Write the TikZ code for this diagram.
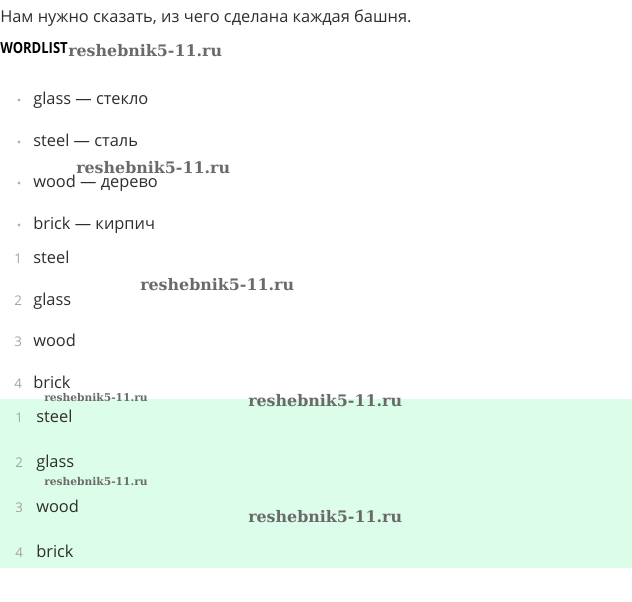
\documentclass[tikz,border=0pt]{standalone}
\usepackage{fontspec}
\setmainfont{Open Sans}
\newfontfamily\wmfont{DejaVu Serif}
\definecolor{txtgray}{HTML}{2E2E2E}
\definecolor{numgray}{HTML}{A3A3A3}
\definecolor{dotgray}{HTML}{B0B0B0}
\definecolor{bandgreen}{HTML}{DCFDE9}
\definecolor{wmgray}{HTML}{6A6A6A}
\tikzset{
  word/.style={text=txtgray, font=\fontsize{12.3}{14}\selectfont},
  numlabel/.style={text=numgray, font=\fontsize{10}{12}\selectfont},
  headlabel/.style={text=black, font=\bfseries\fontsize{11.5}{14}\selectfont},
  wmbig/.style={text=wmgray, font=\wmfont\bfseries\fontsize{11.9}{13}\selectfont},
  wmsmall/.style={text=wmgray, font=\wmfont\bfseries\fontsize{8}{9}\selectfont}
}
\begin{document}
\begin{tikzpicture}[x=0.75pt,y=-0.75pt, every node/.style={inner sep=0pt, anchor=base west}]
  \useasboundingbox (0,0) rectangle (632,601);
  % answer band
  \fill[bandgreen] (0,399) rectangle (632,568);
  \node[word] (title) at (0,22) {Нам нужно сказать, из чего сделана каждая башня.};
  \node[headlabel] (wordlist) at (0,53) {\scalebox{0.85}[1]{WORDLIST}};
  % word list
  \foreach \y/\en/\ru [count=\i] in {104/glass/стекло, 146/steel/сталь,
            187/wood/дерево, 229/brick/кирпич}
  {
    \fill[dotgray] (19,\y-4) circle (1.6);
    \node[word] (w\i) at (33,\y) {\en{} — \ru};
  }
  % task
  \foreach \y/\en [count=\i] in {263/steel, 305/glass, 346/wood, 388/brick}
  {
    \node[numlabel] (q\i) at (14,\y) {\i};
    \node[word] (a\i) at (33,\y) {\en};
  }
  % answer
  \foreach \y/\en [count=\i] in {422/steel, 467/glass, 512/wood, 557/brick}
  {
    \node[numlabel] (n\i) at (15,\y) {\i};
    \node[word] (b\i) at (36,\y) {\en};
  }
  % watermarks
  \node[wmbig] (wm1) at (68,56) {reshebnik5-11.ru};
  \node[wmbig] (wm2) at (76,173) {reshebnik5-11.ru};
  \node[wmbig] (wm3) at (140,290) {reshebnik5-11.ru};
  \node[wmsmall] (wm4) at (44,401) {reshebnik5-11.ru};
  \node[wmbig] (wm5) at (248,406) {reshebnik5-11.ru};
  \node[wmsmall] (wm6) at (44,485) {reshebnik5-11.ru};
  \node[wmbig] (wm7) at (248,522) {reshebnik5-11.ru};
\end{tikzpicture}
\end{document}
